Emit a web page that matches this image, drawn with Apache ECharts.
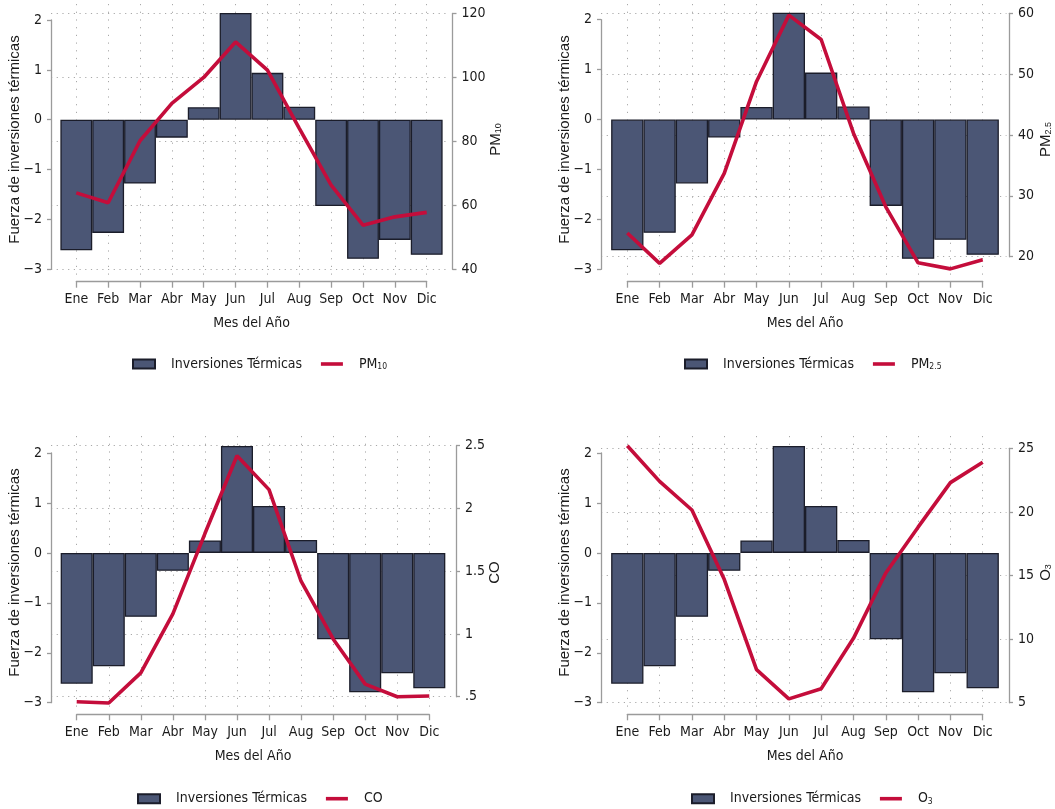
<!DOCTYPE html>
<html>
<head>
<meta charset="utf-8">
<title>Inversiones térmicas y contaminantes por mes</title>
<script src="https://cdn.jsdelivr.net/npm/echarts@6/dist/echarts.min.js"></script>
<style>
  html, body { margin: 0; padding: 0; background: #ffffff; }
  #chart { width: 1055px; height: 809px; }
</style>
</head>
<body>
<div id="chart"></div>
<script>
// Month labels of the horizontal axis
const months = ['Ene', 'Feb', 'Mar', 'Abr', 'May', 'Jun', 'Jul', 'Aug', 'Sep', 'Oct', 'Nov', 'Dic'];

// Monthly strength of thermal inversions (left axis, bars)
const inversion = [-2.62, -2.27, -1.28, -0.36, 0.25, 2.14, 0.94, 0.26, -1.73, -2.79, -2.41, -2.71];

// Monthly pollutant averages (right axis, lines)
const pm10 = [63.9, 60.8, 80.2, 91.9, 100.0, 111.1, 102.3, 84.1, 66.3, 53.8, 56.4, 57.8];
const pm25 = [23.9, 18.9, 23.6, 33.7, 48.8, 59.7, 55.7, 40.3, 28.2, 19.0, 18.0, 19.5];
const co   = [0.46, 0.45, 0.69, 1.16, 1.80, 2.42, 2.15, 1.42, 0.96, 0.60, 0.50, 0.505];
const o3   = [25.2, 22.4, 20.15, 14.7, 7.6, 5.3, 6.1, 10.06, 15.2, 18.8, 22.3, 23.9];

// Tick ranges of each axis
const leftTicks = { min: -3, max: 2, step: 1 };
const pm10Ticks = { min: 40, max: 120, step: 20 };
const pm25Ticks = { min: 20, max: 60, step: 10 };
const coTicks   = { min: 0.5, max: 2.5, step: 0.5 };
const o3Ticks   = { min: 5, max: 25, step: 5 };

const BAR_NAME = 'Inversiones Térmicas';
const Y_TITLE = 'Fuerza de inversiones térmicas';
const X_TITLE = 'Mes del Año';

const NARROW = "'Liberation Sans Narrow', 'Arial Narrow', 'DejaVu Sans Condensed', sans-serif";
const REGULAR = "'Liberation Sans', Arial, sans-serif";
const FS = 14;
const TEXT = '#1a1a1a';
const AXIS = '#9b9b9b';
const GRID = '#a9a9a9';
const BAR_FILL = '#4b5675';
const BAR_EDGE = '#1b1d2a';
const LINE = '#c40d3b';

// Rich-text styles for subscripts
const richSub = {
  s: { fontSize: 8.5, fontFamily: NARROW, color: TEXT, padding: [6, 0, 0, 0] }
};
const richSubRot = {
  s: { fontSize: 9, fontFamily: REGULAR, color: TEXT, padding: [7, 0, 0, 0] }
};

// Stata-like number format: no leading zero, typographic minus
function fmtNum(v) {
  let s = String(+(+v).toFixed(2));
  s = s.replace(/^(-?)0\./, '$1.');
  return s.replace('-', '\u2212');
}

// Panel layout (pixel geometry) and content
const panels = [
  { name: 'PM10', label: 'PM{s|10}', data: pm10, ticks: pm10Ticks,
    axL: 51, axR: 452.5, x1: 76.3, x12: 426.7, yTop: 20, yBot: 269.3,
    rTop: 13.5, rBot: 269.3, xLine: 281.7, vTop: 4, vBot: 275,
    rGap: 35, legendX: 132, legendY: 363 },
  { name: 'PM2.5', label: 'PM{s|2.5}', data: pm25, ticks: pm25Ticks,
    axL: 601, axR: 1009, x1: 627.3, x12: 982.7, yTop: 19.7, yBot: 269.3,
    rTop: 13.3, rBot: 256.7, xLine: 281.7, vTop: 4, vBot: 275,
    rGap: 28.5, legendX: 684, legendY: 363 },
  { name: 'CO', label: 'CO', data: co, ticks: coTicks,
    axL: 51, axR: 456, x1: 76.7, x12: 429.3, yTop: 453, yBot: 702.7,
    rTop: 445.7, rBot: 696.7, xLine: 714.3, vTop: 436, vBot: 709,
    rGap: 31.5, legendX: 137, legendY: 797.7 },
  { name: 'O3', label: 'O{s|3}', data: o3, ticks: o3Ticks,
    axL: 601, axR: 1009, x1: 627.3, x12: 982.7, yTop: 453, yBot: 702.7,
    rTop: 448.3, rBot: 702.7, xLine: 714.3, vTop: 436, vBot: 709,
    rGap: 28.5, legendX: 691, legendY: 797.7 }
];

const grids = [], xAxes = [], yAxes = [], series = [], legends = [];
const labelOf = {};
panels.forEach(p => { labelOf[p.name] = p.label; });
labelOf[BAR_NAME] = BAR_NAME;

function baseGrid(left, top, width, height) {
  return { left, top, width, height, containLabel: false, outerBoundsMode: 'none' };
}

panels.forEach(p => {
  const step = (p.x12 - p.x1) / (months.length - 1);

  // Grid for the bars, with the visible month axis and the left axis
  const gBar = grids.length;
  grids.push(baseGrid(p.x1, p.yTop, p.x12 - p.x1, p.yBot - p.yTop));
  const xBar = xAxes.length;
  xAxes.push({
    gridIndex: gBar, type: 'value', min: 1, max: months.length, interval: 1,
    position: 'bottom', offset: p.xLine - p.yBot,
    axisLine: { show: true, onZero: false, lineStyle: { color: AXIS, width: 1.3 } },
    axisTick: { show: true, length: 6, lineStyle: { color: AXIS, width: 1.3 } },
    axisLabel: { formatter: v => months[v - 1] || '', margin: 11, color: TEXT,
      fontFamily: NARROW, fontSize: FS, showMinLabel: true, showMaxLabel: true },
    splitLine: { show: false },
    name: X_TITLE, nameLocation: 'middle', nameGap: 35,
    nameTextStyle: { fontFamily: NARROW, fontSize: FS, color: TEXT }
  });
  const yBar = yAxes.length;
  yAxes.push({
    gridIndex: gBar, type: 'value', position: 'left',
    min: leftTicks.min, max: leftTicks.max, interval: leftTicks.step,
    offset: p.x1 - p.axL,
    axisLine: { show: true, onZero: false, lineStyle: { color: AXIS, width: 1.3 } },
    axisTick: { show: true, length: 4, lineStyle: { color: AXIS, width: 1.3 } },
    axisLabel: { formatter: fmtNum, margin: 9, color: TEXT, fontFamily: NARROW, fontSize: FS },
    splitLine: { show: false }
  });
  series.push({
    type: 'bar', name: BAR_NAME, xAxisIndex: xBar, yAxisIndex: yBar,
    data: inversion.map((v, i) => [i + 1, v]),
    barWidth: '100%', clip: false, z: 3,
    itemStyle: { color: BAR_FILL, borderColor: BAR_EDGE, borderWidth: 1.3 }
  });

  // Grid for the pollutant line, right axis and horizontal dotted grid
  const gLine = grids.length;
  const rEdge = p.axR - 2.5;
  grids.push(baseGrid(p.axL, p.rTop, rEdge - p.axL, p.rBot - p.rTop));
  const xLine = xAxes.length;
  xAxes.push({
    gridIndex: gLine, type: 'value', show: false,
    min: 1 - (p.x1 - p.axL) / step,
    max: months.length + (rEdge - p.x12) / step
  });
  const yLine = yAxes.length;
  yAxes.push({
    gridIndex: gLine, type: 'value', position: 'right',
    min: p.ticks.min, max: p.ticks.max, interval: p.ticks.step,
    offset: p.axR - rEdge,
    axisLine: { show: true, onZero: false, lineStyle: { color: AXIS, width: 1.3 } },
    axisTick: { show: true, length: 4, lineStyle: { color: AXIS, width: 1.3 } },
    axisLabel: { formatter: fmtNum, margin: 9, color: TEXT, fontFamily: NARROW, fontSize: FS },
    splitLine: { show: true, lineStyle: { color: GRID, width: 1, type: [1.2, 4.5] } }
  });
  series.push({
    type: 'line', name: p.name, xAxisIndex: xLine, yAxisIndex: yLine,
    data: p.data.map((v, i) => [i + 1, v]),
    showSymbol: false, symbol: 'none', clip: false, z: 5,
    lineStyle: { color: LINE, width: 3.6 }, itemStyle: { color: LINE }
  });

  // Grid spanning the plot region: vertical dotted grid and axis titles
  const gDeco = grids.length;
  grids.push(baseGrid(p.x1, p.vTop, p.x12 - p.x1, p.vBot - p.vTop));
  xAxes.push({
    gridIndex: gDeco, type: 'value', min: 1, max: months.length, interval: 1,
    axisLine: { show: false }, axisTick: { show: false }, axisLabel: { show: false },
    splitLine: { show: true, lineStyle: { color: GRID, width: 1, type: [1.2, 6.5] } }
  });
  yAxes.push({
    gridIndex: gDeco, type: 'value', position: 'left', min: 0, max: 1,
    offset: p.x1 - p.axL,
    axisLine: { show: false }, axisTick: { show: false }, axisLabel: { show: false },
    splitLine: { show: false },
    name: Y_TITLE, nameLocation: 'middle', nameRotate: 90, nameGap: 29,
    nameTextStyle: { fontFamily: REGULAR, fontSize: 15, color: TEXT }
  });
  yAxes.push({
    gridIndex: gDeco, type: 'value', position: 'right', min: 0, max: 1,
    offset: p.axR - p.x12,
    axisLine: { show: false }, axisTick: { show: false }, axisLabel: { show: false },
    splitLine: { show: false },
    name: p.label, nameLocation: 'middle', nameRotate: 90, nameGap: p.rGap,
    nameTextStyle: { fontFamily: REGULAR, fontSize: 15, color: TEXT, rich: richSubRot }
  });

  legends.push({
    left: p.legendX, top: p.legendY - 6, padding: 0,
    itemWidth: 22, itemHeight: 9, itemGap: 17,
    data: [
      { name: BAR_NAME, icon: 'rect' },
      { name: p.name, itemStyle: { opacity: 0 }, lineStyle: { width: 3.6, color: LINE } }
    ],
    formatter: n => labelOf[n],
    textStyle: { fontFamily: NARROW, fontSize: FS, color: TEXT,
      padding: [0, 0, 0, 11], rich: richSub }
  });
});

const chart = echarts.init(document.getElementById('chart'), null, { renderer: 'canvas' });
chart.setOption({
  backgroundColor: '#ffffff',
  animation: false,
  grid: grids,
  xAxis: xAxes,
  yAxis: yAxes,
  legend: legends,
  series: series
});
</script>
</body>
</html>
